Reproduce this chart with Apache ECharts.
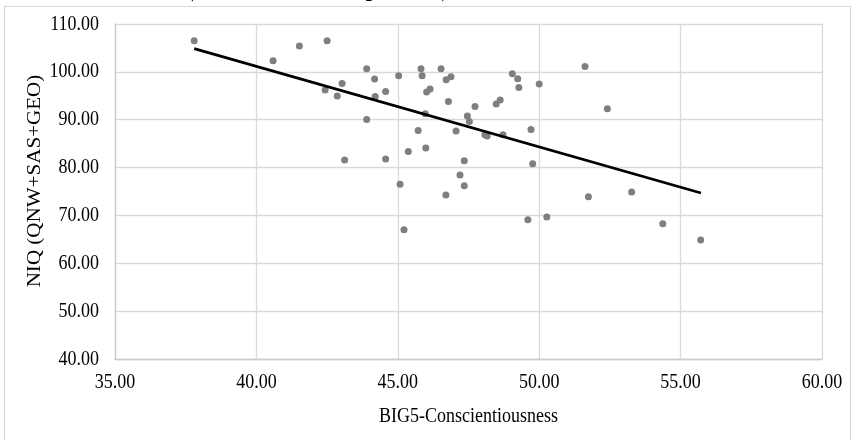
<!DOCTYPE html>
<html>
<head>
<meta charset="utf-8">
<script src="https://cdn.jsdelivr.net/npm/echarts@6/dist/echarts.min.js"></script>
<style>
  html, body { margin: 0; padding: 0; background: #ffffff; }
  #chart { width: 854px; height: 440px; }
</style>
</head>
<body>
<div id="chart"></div>
<script>
// BIG5 conscientiousness score per country and its national IQ
const conscientiousness = [
  37.80, 40.59, 41.52, 42.50, 43.03, 42.43, 42.86, 43.12, 43.90, 44.18,
  45.03, 44.57, 44.20, 43.90, 44.57, 45.37, 45.72, 45.99, 45.08, 46.70,
  45.82, 45.86, 46.53, 46.71, 46.88, 46.02, 46.14, 45.97, 46.79, 47.73,
  47.46, 47.53, 47.06, 48.08, 48.16, 48.72, 48.48, 48.62, 49.05, 49.24,
  49.28, 50.00, 49.71, 49.77, 47.35, 47.20, 47.35, 49.60, 50.27, 45.22,
  51.62, 52.41, 51.74, 53.27, 54.37, 55.71
];
const nationalIQ = [
  106.51, 102.33, 105.40, 106.51, 97.59, 96.21, 94.96, 81.58, 100.66, 98.51,
  99.20, 95.92, 94.87, 90.07, 81.79, 83.38, 87.77, 84.09, 76.49, 74.27,
  100.66, 99.20, 100.66, 98.36, 98.99, 95.79, 96.42, 91.26, 93.83, 92.78,
  90.78, 89.65, 87.64, 86.87, 86.60, 86.87, 93.28, 94.12, 99.62, 98.57,
  96.75, 97.46, 87.98, 80.81, 81.44, 78.45, 76.21, 69.11, 69.67, 67.02,
  101.14, 92.30, 73.92, 74.90, 68.27, 64.87
];

// Linear trend line, end points
const trendX = [37.80, 55.72];
const trendY = [104.84, 74.69];

// Axis ticks
const xTicks = [35, 40, 45, 50, 55, 60];
const yTicks = [40, 50, 60, 70, 80, 90, 100, 110];

const xTitle = 'BIG5-Conscientiousness';
const yTitle = 'NIQ (QNW+SAS+GEO)';
const headerParts = ['(r = −0.45, N = 56, ', 'p', ' < .001)'];

const SERIF = '"Liberation Serif", "Times New Roman", serif';
const TEXT_STRETCH = 1.17;

const chart = echarts.init(document.getElementById('chart'), null, { renderer: 'canvas' });

const gridColor = '#d9d9d9';

chart.setOption({
  animation: false,
  backgroundColor: '#ffffff',
  grid: { left: 115, right: 32, top: 24, bottom: 81, containLabel: false },
  xAxis: {
    type: 'value',
    min: xTicks[0],
    max: xTicks[xTicks.length - 1],
    interval: 5,
    axisLine: { show: true, lineStyle: { color: '#cccccc', width: 1.3 } },
    axisTick: { show: false },
    axisLabel: { show: false },
    splitLine: { show: true, lineStyle: { color: gridColor, width: 1.3 } }
  },
  yAxis: {
    type: 'value',
    min: yTicks[0],
    max: yTicks[yTicks.length - 1],
    interval: 10,
    axisLine: { show: true, lineStyle: { color: '#cccccc', width: 1.3 } },
    axisTick: { show: false },
    axisLabel: { show: false },
    splitLine: { show: true, lineStyle: { color: gridColor, width: 1.3 } }
  },
  series: [
    {
      type: 'scatter',
      name: 'Countries',
      data: conscientiousness.map((x, i) => [x, nationalIQ[i]]),
      symbol: 'circle',
      symbolSize: 7,
      itemStyle: { color: '#7f7f7f', opacity: 1 },
      z: 3
    },
    {
      type: 'line',
      name: 'Linear trend',
      data: trendX.map((x, i) => [x, trendY[i]]),
      symbol: 'none',
      lineStyle: { color: '#000000', width: 2.8 },
      z: 4
    }
  ]
});

// Tick labels and axis titles, placed through the axis scales
const elements = [];

// outer frame
elements.push({
  type: 'rect',
  shape: { x: 4.5, y: 6.5, width: 846, height: 440 },
  style: { fill: null, stroke: '#d9d9d9', lineWidth: 1.2 },
  z: 0
});

xTicks.forEach(v => {
  const p = chart.convertToPixel({ gridIndex: 0 }, [v, yTicks[0]]);
  elements.push({
    type: 'text', x: p[0], y: p[1] + 23, scaleY: TEXT_STRETCH,
    style: { text: v.toFixed(2), font: '18px ' + SERIF, fill: '#000000', align: 'center', verticalAlign: 'middle' }
  });
});

yTicks.forEach(v => {
  const p = chart.convertToPixel({ gridIndex: 0 }, [xTicks[0], v]);
  elements.push({
    type: 'text', x: p[0] - 16, y: p[1], scaleY: TEXT_STRETCH,
    style: { text: v.toFixed(2), font: '18px ' + SERIF, fill: '#000000', align: 'right', verticalAlign: 'middle' }
  });
});

const c0 = chart.convertToPixel({ gridIndex: 0 }, [xTicks[0], yTicks[0]]);
const c1 = chart.convertToPixel({ gridIndex: 0 }, [xTicks[xTicks.length - 1], yTicks[yTicks.length - 1]]);

elements.push({
  type: 'text', x: (c0[0] + c1[0]) / 2, y: 416, scaleY: TEXT_STRETCH,
  style: { text: xTitle, font: '18px ' + SERIF, fill: '#000000', align: 'center', verticalAlign: 'middle' }
});

elements.push({
  type: 'text', x: 35, y: 181, rotation: Math.PI / 2, scaleX: TEXT_STRETCH,
  style: { text: yTitle, font: '18px ' + SERIF, fill: '#000000', align: 'center', verticalAlign: 'middle' }
});

// header line above the frame, mostly outside the page
elements.push({
  type: 'text', x: 188, y: 2, scaleY: TEXT_STRETCH,
  style: {
    text: '{a|' + headerParts[0] + '}{b|' + headerParts[1] + '}{a|' + headerParts[2] + '}',
    rich: {
      a: { font: 'italic 22px ' + SERIF, fill: '#000000' },
      b: { font: 'italic bold 22px ' + SERIF, fill: '#000000' }
    },
    align: 'left', verticalAlign: 'bottom'
  }
});

chart.setOption({ graphic: { elements } });
</script>
</body>
</html>
